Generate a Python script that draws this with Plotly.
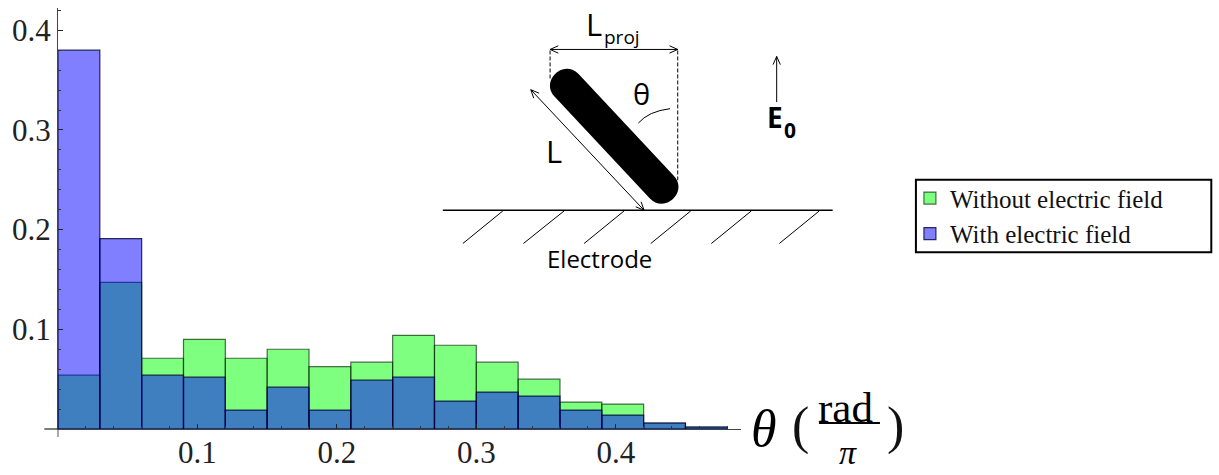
import math
import plotly.graph_objects as go

# ---- data ----
bin_edges = [0.00, 0.03, 0.06, 0.09, 0.12, 0.15, 0.18, 0.21, 0.24, 0.27, 0.30, 0.33, 0.36, 0.39, 0.42, 0.45, 0.48]
without_field = [0.054, 0.147, 0.071, 0.090, 0.071, 0.080, 0.0625, 0.067, 0.094, 0.084, 0.067, 0.050, 0.027, 0.025, 0.006, 0.002]
with_field = [0.380, 0.191, 0.054, 0.052, 0.019, 0.042, 0.019, 0.049, 0.052, 0.028, 0.037, 0.033, 0.019, 0.014, 0.006, 0.002]
x_ticks = [0.1, 0.2, 0.3, 0.4]
y_ticks = [0.1, 0.2, 0.3, 0.4]
series_names = ["Without electric field", "With electric field"]

# ---- layout geometry (figure pixels) ----
W, H = 1219, 475
L, R, T, B = 57.7, 741.0, 7.5, 429.0
SERIF = "Liberation Serif"
SANS = "Open Sans"


def px(x):
    return (x - L) / (R - L)


def py(y):
    return (B - y) / (B - T)


centers = [(a + b) / 2 for a, b in zip(bin_edges, bin_edges[1:])]
widths = [b - a for a, b in zip(bin_edges, bin_edges[1:])]

fig = go.Figure()
fig.add_bar(x=centers, y=without_field, width=widths, name=series_names[0],
            marker=dict(color="rgba(0,255,0,0.5)", line=dict(color="rgba(0,30,0,0.65)", width=1.2)))
fig.add_bar(x=centers, y=with_field, width=widths, name=series_names[1],
            marker=dict(color="rgba(0,0,255,0.5)", line=dict(color="rgba(0,0,50,0.8)", width=1.2)))

shapes = []


def seg(x0, y0, x1, y1, width=1.0, dash=None, color="black"):
    shapes.append(dict(type="line", xref="paper", yref="paper", x0=px(x0), y0=py(y0), x1=px(x1), y1=py(y1),
                       line=dict(color=color, width=width, dash=dash)))


def path(points_cmd, fill=None, width=1.0):
    shapes.append(dict(type="path", xref="paper", yref="paper", path=points_cmd,
                       fillcolor=fill if fill else "rgba(0,0,0,0)",
                       line=dict(color="black", width=width)))


def head(xt, yt, xf, yf, size=9.0, spread=0.42):
    a = math.atan2(yf - yt, xf - xt)
    for s in (-spread, spread):
        seg(xt, yt, xt + size * math.cos(a + s), yt + size * math.sin(a + s), 1.0)


def arrow(x0, y0, x1, y1, both=True):
    seg(x0, y0, x1, y1, 1.0)
    head(x1, y1, x0, y0)
    if both:
        head(x0, y0, x1, y1)


# axis overhangs past the origin
seg(44, B, L, B, 1.2, color="#222222")
seg(L, B, L, 437, 1.0, color="#555555")

# fraction bar in the axis title
seg(819, 423, 880, 423, 2.2)

# legend frame
shapes.append(dict(type="rect", xref="paper", yref="paper", x0=px(916), y0=py(179.5), x1=px(1211.5), y1=py(252),
                   line=dict(color="black", width=2), fillcolor="rgba(0,0,0,0)"))

# electrode and hatching
seg(442.7, 210, 832.7, 210, 1.4)
for xa, xb in [(462.7, 502.7), (523.3, 564), (584, 624), (650.7, 690.7), (711.3, 751.3), (779.3, 819.3)]:
    seg(xa, 243.3, xb, 210.7, 1.0)

# rod: capsule with rounded ends
x0, y0, x1, y1, r = 566.7, 85.0, 661.7, 186.7, 16.5
ang = math.atan2(y1 - y0, x1 - x0)
ux, uy = math.cos(ang), math.sin(ang)
nx, ny = -uy, ux
k = 1.33 * r


def P(x, y):
    return f"{px(x):.5f},{py(y):.5f}"


rod = (
    f"M{P(x0 + nx * r, y0 + ny * r)} L{P(x1 + nx * r, y1 + ny * r)} "
    f"C{P(x1 + nx * r + ux * k, y1 + ny * r + uy * k)} {P(x1 - nx * r + ux * k, y1 - ny * r + uy * k)} {P(x1 - nx * r, y1 - ny * r)} "
    f"L{P(x0 - nx * r, y0 - ny * r)} "
    f"C{P(x0 - nx * r - ux * k, y0 - ny * r - uy * k)} {P(x0 + nx * r - ux * k, y0 + ny * r - uy * k)} {P(x0 + nx * r, y0 + ny * r)} Z"
)
path(rod, fill="black", width=0)

# projection guides and arrows
seg(550, 50, 550, 80, 1.0, dash="4px,2px")
seg(677.7, 50, 677.7, 180, 1.0, dash="4px,2px")
arrow(550, 49, 677.7, 49)
arrow(530.7, 89.3, 644, 210)
arrow(776.7, 101.7, 776.7, 56, both=False)
path(f"M{P(638.3, 122.7)} Q{P(648.3, 111.0)} {P(670, 108.3)}", width=1.0)

notes = []


def text(x, y, s, size, family=SANS, color="black"):
    notes.append(dict(xref="paper", yref="paper", x=px(x), y=py(y), text=s, showarrow=False,
                      xanchor="center", yanchor="middle", font=dict(family=family, size=size, color=color)))


text(594, 24, "L", 31)
text(622, 37, "proj", 19)
text(641.7, 93, "θ", 29)
text(554, 150.7, "L", 31)
text(775, 116.7, "<b>E</b>", 28)
text(790.5, 130, "<b>0</b>", 21)
text(599.3, 258.3, "Electrode", 24)

text(764, 428, "<i>θ</i>", 52, SERIF)
text(801, 426, "(", 52, SERIF, "#111111")
text(846, 407, "rad", 43, SERIF)
text(848, 453, "<i>π</i>", 34, SERIF)
text(896, 426, ")", 52, SERIF, "#111111")

axis_common = dict(
    showgrid=False, zeroline=False, showline=True, linecolor="#444444", linewidth=1,
    ticks="inside", ticklen=5, tickwidth=1, tickcolor="#222222", tickmode="array",
    tickfont=dict(family=SERIF, size=31, color="#222222"), tickformat=".1f", tickangle=0, automargin=False,
    minor=dict(ticks="inside", ticklen=3, tickwidth=1, tickcolor="#333333", tickmode="linear", tick0=0, dtick=0.02, showgrid=False),
)

fig.update_layout(
    width=W, height=H, autosize=False,
    margin=dict(l=L, r=W - R, t=T, b=H - B, pad=0, autoexpand=False),
    paper_bgcolor="white", plot_bgcolor="white",
    barmode="overlay",
    xaxis=dict(range=[0, (R - L) / 1395.0], tickvals=x_ticks, ticklabelstandoff=-4, **axis_common),
    yaxis=dict(range=[0, (B - T) / 998.0], tickvals=y_ticks, **axis_common),
    legend=dict(x=px(910), y=py(175), xanchor="left", yanchor="top",
                borderwidth=0, bgcolor="rgba(0,0,0,0)",
                font=dict(family=SERIF, size=25, color="#111111"),
                itemclick=False, itemdoubleclick=False, tracegroupgap=0),
    showlegend=True,
    shapes=shapes, annotations=notes,
)

fig.write_html("out.html", post_script="document.body.style.margin='0';", config={"displayModeBar": False})
